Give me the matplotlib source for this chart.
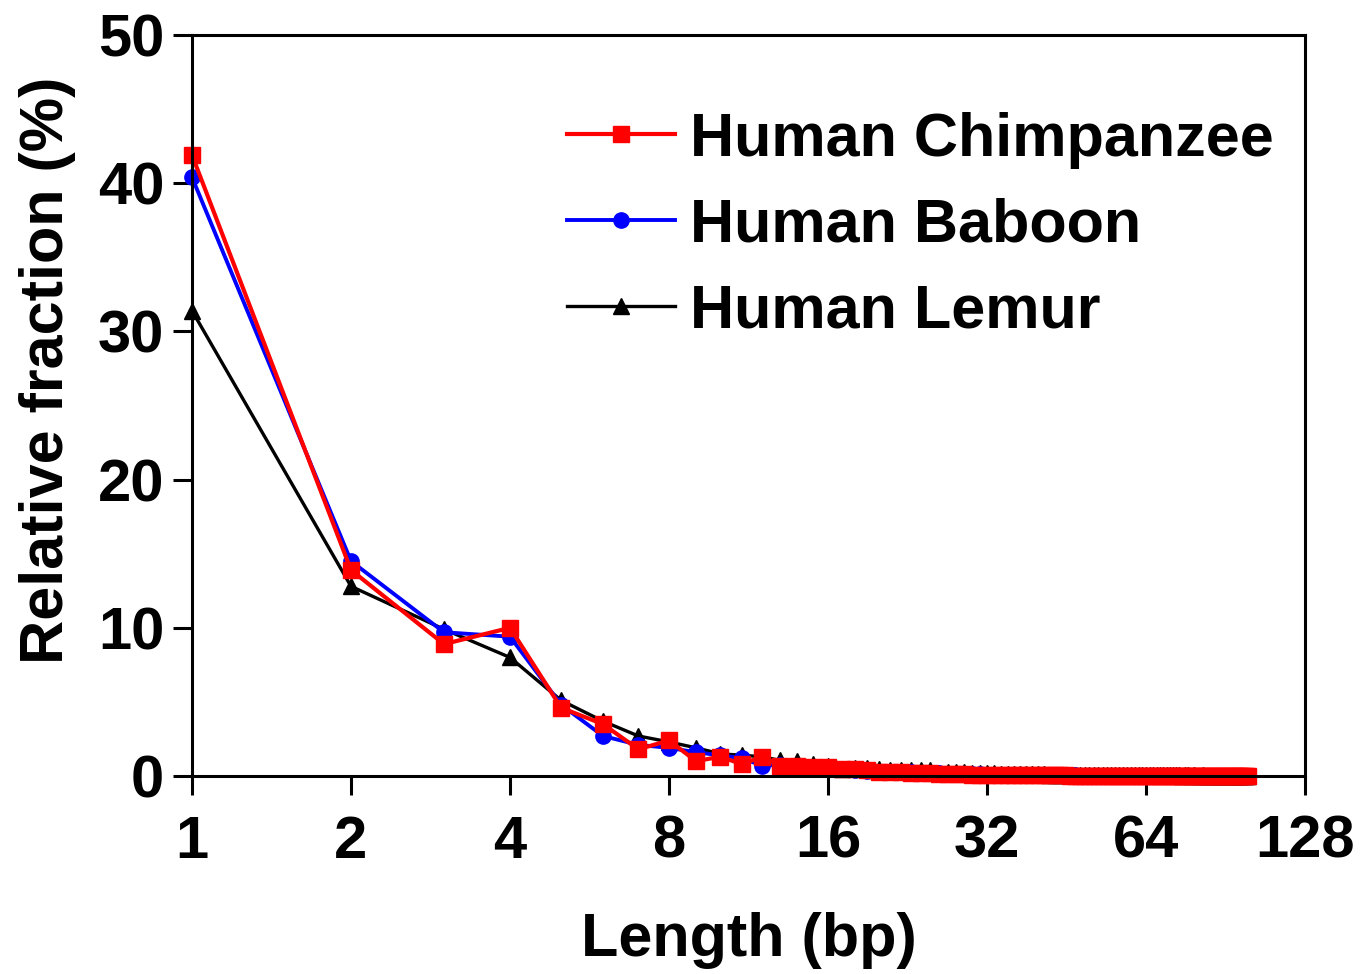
import matplotlib
matplotlib.use("Agg")
import matplotlib.pyplot as plt
from matplotlib.ticker import FixedLocator, FixedFormatter, NullLocator

plt.rcParams['font.family'] = ['Liberation Sans', 'DejaVu Sans']
plt.rcParams['font.weight'] = 'bold'

lengths = list(range(1, 101))

chimp = [41.9, 13.9, 8.9, 10.0, 4.6, 3.5, 1.8, 2.4, 1.0, 1.3, 0.8, 1.3,
         0.7, 0.65, 0.6, 0.6, 0.5, 0.45, 0.4, 0.3, 0.3, 0.25, 0.2, 0.2,
         0.18, 0.15, 0.15, 0.12, 0.12, 0.1, 0.1, 0.09, 0.08, 0.08, 0.07, 0.07,
         0.06, 0.06, 0.05, 0.05, 0.05, 0.04, 0.04, 0.04, 0.04, 0.03, 0.03, 0.03,
         0.03, 0.03, 0.02, 0.03, 0.02, 0.02, 0.02, 0.02, 0.02, 0.02, 0.01, 0.02,
         0.01, 0.02, 0.01, 0.01, 0.01, 0.01, 0.01, 0.01, 0.01, 0.01, 0.01, 0.01,
         0.01, 0.01, 0.01, 0.0, 0.01, 0.01, 0.0, 0.01, 0.0, 0.01, 0.0, 0.0,
         0.01, 0.0, 0.0, 0.0, 0.01, 0.0, 0.0, 0.0, 0.0, 0.0, 0.0, 0.0,
         0.0, 0.0, 0.0, 0.0]

baboon = [40.4, 14.5, 9.7, 9.4, 4.8, 2.7, 2.1, 1.9, 1.6, 1.4, 1.2, 0.7,
          0.75, 0.65, 0.6, 0.5, 0.45, 0.4, 0.35, 0.3, 0.3, 0.25, 0.25, 0.2,
          0.2, 0.18, 0.16, 0.15, 0.13, 0.12, 0.11, 0.1, 0.1, 0.09, 0.08, 0.08,
          0.07, 0.07, 0.06, 0.06, 0.05, 0.05, 0.05, 0.04, 0.04, 0.04, 0.04, 0.03,
          0.03, 0.03, 0.03, 0.03, 0.03, 0.02, 0.02, 0.02, 0.02, 0.02, 0.02, 0.02,
          0.02, 0.02, 0.01, 0.02, 0.01, 0.01, 0.01, 0.01, 0.01, 0.01, 0.01, 0.01,
          0.01, 0.01, 0.01, 0.01, 0.01, 0.01, 0.01, 0.0, 0.01, 0.01, 0.0, 0.01,
          0.0, 0.01, 0.0, 0.0, 0.01, 0.0, 0.0, 0.0, 0.0, 0.0, 0.0, 0.0,
          0.0, 0.0, 0.0, 0.0]

lemur = [31.4, 12.8, 9.9, 8.0, 5.1, 3.7, 2.7, 2.3, 1.9, 1.5, 1.4, 1.3,
         1.05, 1.0, 0.8, 0.7, 0.5, 0.55, 0.55, 0.45, 0.4, 0.4, 0.4, 0.4,
         0.4, 0.2, 0.3, 0.25, 0.25, 0.2, 0.2, 0.2, 0.18, 0.15, 0.15, 0.15,
         0.14, 0.13, 0.12, 0.12, 0.11, 0.1, 0.1, 0.1, 0.09, 0.09, 0.08, 0.08,
         0.08, 0.07, 0.07, 0.07, 0.06, 0.06, 0.06, 0.06, 0.05, 0.05, 0.05, 0.05,
         0.05, 0.05, 0.05, 0.04, 0.05, 0.04, 0.04, 0.04, 0.04, 0.04, 0.04, 0.04,
         0.04, 0.04, 0.03, 0.04, 0.04, 0.03, 0.04, 0.03, 0.03, 0.04, 0.03, 0.03,
         0.03, 0.03, 0.03, 0.03, 0.03, 0.03, 0.03, 0.03, 0.03, 0.03, 0.03, 0.03,
         0.03, 0.03, 0.03, 0.03]

labels = ['Human Chimpanzee', 'Human Baboon', 'Human Lemur']
xticks = [1, 2, 4, 8, 16, 32, 64, 128]
xticklabels = ['1', '2', '4', '8', '16', '32', '64', '128']
yticks = [0, 10, 20, 30, 40, 50]

W, H = 1363, 974
fig = plt.figure(figsize=(W / 100, H / 100), dpi=100)
ax = fig.add_axes([192 / W, 1 - 776 / H, (1305 - 192) / W, (776 - 35) / H])

l3, = ax.plot(lengths, lemur, color='black', lw=2.4, marker='^', ms=11,
              clip_on=False, zorder=2)
l2, = ax.plot(lengths, baboon, color='#0000FF', lw=2.8, marker='o', ms=11,
              clip_on=False, zorder=2.1)
l1, = ax.plot(lengths, chimp, color='#FF0000', lw=3.0, marker='s', ms=12,
              clip_on=False, zorder=2.2)

ax.set_xscale('log', base=2)
ax.set_xlim(1, 128)
ax.set_ylim(0, 50)
ax.xaxis.set_major_locator(FixedLocator(xticks))
ax.xaxis.set_major_formatter(FixedFormatter(xticklabels))
ax.xaxis.set_minor_locator(NullLocator())
ax.set_yticks(yticks)

for sp in ax.spines.values():
    sp.set_linewidth(2.2)
    sp.set_zorder(3)
ax.tick_params(axis='both', which='major', length=14, width=2.2,
               labelsize=43, direction='out')
ax.tick_params(axis='x', pad=14)
ax.tick_params(axis='y', pad=6)
for t in ax.get_xticklabels() + ax.get_yticklabels():
    t.set_fontweight('bold')

ax.set_xlabel('Length (bp)', fontsize=44, fontweight='bold', labelpad=30)
ax.set_ylabel('Relative fraction (%)', fontsize=44, fontweight='bold')
ax.yaxis.set_label_coords((76 - 192) / 1113, 1 - (370 - 35) / 741)

leg = fig.legend([l1, l2, l3], labels, loc='center left',
                 bbox_to_anchor=(567 / W, 1 - 226 / H), frameon=False,
                 prop={'size': 44, 'weight': 'bold'}, handlelength=1.77,
                 handletextpad=0.25, labelspacing=0.47, borderpad=0,
                 borderaxespad=0)

fig.savefig('out.png', dpi=100)
